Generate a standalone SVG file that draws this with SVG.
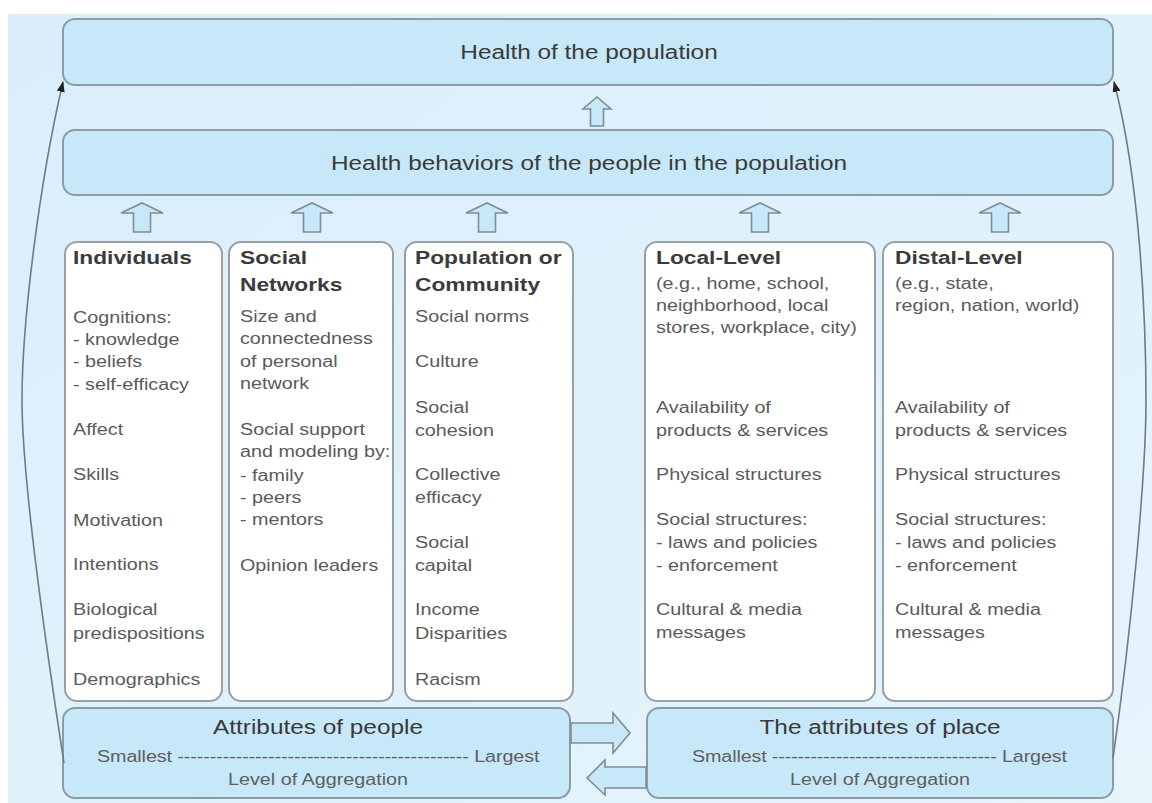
<svg xmlns="http://www.w3.org/2000/svg" width="1152" height="803" viewBox="0 0 1152 803">
<defs>
<linearGradient id="bg" x1="0" y1="0" x2="1" y2="1">
<stop offset="0" stop-color="#d9eefa"/>
<stop offset="1" stop-color="#e6f4fc"/>
</linearGradient>
<marker id="ah" markerUnits="userSpaceOnUse" markerWidth="11" markerHeight="8" refX="10" refY="4" orient="auto">
<path d="M0,0 L11,4 L0,8 z" fill="#222"/>
</marker>
<style>
.blue{fill:#c7e8f9;stroke:#8d9ba5;stroke-width:2}
.col{fill:#ffffff;stroke:#9a9fa3;stroke-width:2}
.harrow{fill:#c7e8f9;stroke:#7f8d97;stroke-width:1.6;stroke-linejoin:miter}
.curve{fill:none;stroke:#6f7b84;stroke-width:1.6;marker-end:url(#ah)}
text{font-family:"Liberation Sans",Arial,Helvetica,sans-serif}
.t1{font-size:19.5px;fill:#3a3a3a}
.h{font-size:18.2px;font-weight:bold;fill:#3b3b3b}
.b{font-size:15.8px;fill:#5a5a5a}
.s{font-size:15.8px;fill:#5e5e5e}
</style>
</defs>
<rect x="8" y="14" width="1144" height="789" fill="url(#bg)"/>

<g id="health-population">
<rect class="blue" x="63" y="19" width="1050" height="66" rx="12"/>
<g transform="translate(589,59) scale(1.25,1)"><text class="t1" text-anchor="middle">Health of the population</text></g>
</g>

<g id="health-behaviors">
<rect class="blue" x="63" y="130" width="1050" height="65" rx="12"/>
<g transform="translate(589,170) scale(1.25,1)"><text class="t1" text-anchor="middle">Health behaviors of the people in the population</text></g>
</g>

<g id="individuals">
<rect class="col" x="65" y="242" width="157" height="459" rx="12"/>
<g transform="translate(73,0) scale(1.25,1)">
<text class="h" x="0" y="264">Individuals</text>
<text class="b" x="0" y="323">Cognitions:</text>
<text class="b" x="0" y="345">- knowledge</text>
<text class="b" x="0" y="367">- beliefs</text>
<text class="b" x="0" y="390">- self-efficacy</text>
<text class="b" x="0" y="435">Affect</text>
<text class="b" x="0" y="480">Skills</text>
<text class="b" x="0" y="526">Motivation</text>
<text class="b" x="0" y="570">Intentions</text>
<text class="b" x="0" y="615">Biological</text>
<text class="b" x="0" y="639">predispositions</text>
<text class="b" x="0" y="685">Demographics</text>
</g>
</g>

<g id="social-networks">
<rect class="col" x="229" y="242" width="164" height="459" rx="12"/>
<g transform="translate(240,0) scale(1.25,1)">
<text class="h" x="0" y="264">Social</text>
<text class="h" x="0" y="291">Networks</text>
<text class="b" x="0" y="322">Size and</text>
<text class="b" x="0" y="344">connectedness</text>
<text class="b" x="0" y="367">of personal</text>
<text class="b" x="0" y="389">network</text>
<text class="b" x="0" y="435">Social support</text>
<text class="b" x="0" y="457">and modeling by:</text>
<text class="b" x="0" y="481">- family</text>
<text class="b" x="0" y="503">- peers</text>
<text class="b" x="0" y="525">- mentors</text>
<text class="b" x="0" y="571">Opinion leaders</text>
</g>
</g>

<g id="population-community">
<rect class="col" x="405" y="242" width="168" height="459" rx="12"/>
<g transform="translate(415,0) scale(1.25,1)">
<text class="h" x="0" y="264">Population or</text>
<text class="h" x="0" y="291">Community</text>
<text class="b" x="0" y="322">Social norms</text>
<text class="b" x="0" y="367">Culture</text>
<text class="b" x="0" y="413">Social</text>
<text class="b" x="0" y="436">cohesion</text>
<text class="b" x="0" y="480">Collective</text>
<text class="b" x="0" y="503">efficacy</text>
<text class="b" x="0" y="548">Social</text>
<text class="b" x="0" y="571">capital</text>
<text class="b" x="0" y="615">Income</text>
<text class="b" x="0" y="639">Disparities</text>
<text class="b" x="0" y="685">Racism</text>
</g>
</g>

<g id="local-level">
<rect class="col" x="645" y="242" width="230" height="459" rx="12"/>
<g transform="translate(656,0) scale(1.25,1)">
<text class="h" x="0" y="264">Local-Level</text>
<text class="b" x="0" y="289">(e.g., home, school,</text>
<text class="b" x="0" y="311">neighborhood, local</text>
<text class="b" x="0" y="333">stores, workplace, city)</text>
<text class="b" x="0" y="413">Availability of</text>
<text class="b" x="0" y="436">products &amp; services</text>
<text class="b" x="0" y="480">Physical structures</text>
<text class="b" x="0" y="525">Social structures:</text>
<text class="b" x="0" y="548">- laws and policies</text>
<text class="b" x="0" y="571">- enforcement</text>
<text class="b" x="0" y="615">Cultural &amp; media</text>
<text class="b" x="0" y="638">messages</text>
</g>
</g>

<g id="distal-level">
<rect class="col" x="883" y="242" width="230" height="459" rx="12"/>
<g transform="translate(895,0) scale(1.25,1)">
<text class="h" x="0" y="264">Distal-Level</text>
<text class="b" x="0" y="289">(e.g., state,</text>
<text class="b" x="0" y="311">region, nation, world)</text>
<text class="b" x="0" y="413">Availability of</text>
<text class="b" x="0" y="436">products &amp; services</text>
<text class="b" x="0" y="480">Physical structures</text>
<text class="b" x="0" y="525">Social structures:</text>
<text class="b" x="0" y="548">- laws and policies</text>
<text class="b" x="0" y="571">- enforcement</text>
<text class="b" x="0" y="615">Cultural &amp; media</text>
<text class="b" x="0" y="638">messages</text>
</g>
</g>

<g id="attributes-people">
<rect class="blue" x="63" y="708" width="507" height="90" rx="12"/>
<g transform="translate(318,734) scale(1.25,1)"><text class="t1" text-anchor="middle">Attributes of people</text></g>
<g transform="translate(97,762) scale(1.25,1)"><text class="s" x="0" y="0" textLength="354" lengthAdjust="spacing">Smallest --------------------------------------------- Largest</text></g>
<g transform="translate(318,785) scale(1.25,1)"><text class="s" text-anchor="middle">Level of Aggregation</text></g>
</g>

<g id="attributes-place">
<rect class="blue" x="647" y="708" width="466" height="90" rx="12"/>
<g transform="translate(880,734) scale(1.25,1)"><text class="t1" text-anchor="middle">The attributes of place</text></g>
<g transform="translate(692,762) scale(1.25,1)"><text class="s" x="0" y="0" textLength="300" lengthAdjust="spacing">Smallest ----------------------------------- Largest</text></g>
<g transform="translate(880,785) scale(1.25,1)"><text class="s" text-anchor="middle">Level of Aggregation</text></g>
</g>

<g id="connectors">
<polygon class="harrow" points="590.5,126 590.5,109 583,109 597,97 611,109 603.5,109 603.5,126"/>
<polygon class="harrow" points="133.5,232 133.5,213 121,213 142,203 163,213 150.5,213 150.5,232"/>
<polygon class="harrow" points="303.5,232 303.5,213 291,213 312,203 333,213 320.5,213 320.5,232"/>
<polygon class="harrow" points="478.5,232 478.5,213 466,213 487,203 508,213 495.5,213 495.5,232"/>
<polygon class="harrow" points="751.5,232 751.5,213 739,213 760,203 781,213 768.5,213 768.5,232"/>
<polygon class="harrow" points="991.5,232 991.5,213 979,213 1000,203 1021,213 1008.5,213 1008.5,232"/>
<polygon class="harrow" points="571,723 613,723 613,713 630,733 613,753 613,743 571,743"/>
<polygon class="harrow" points="646,767 605,767 605,760 587,778 605,795 605,788 646,788"/>
<path class="curve" d="M64,763 C45,640 22,480 22,400 C22,320 40,180 63,82"/>
<path class="curve" d="M1113,758 C1130,640 1146,480 1146,400 C1146,320 1140,180 1114,82"/>
</g>
</svg>
